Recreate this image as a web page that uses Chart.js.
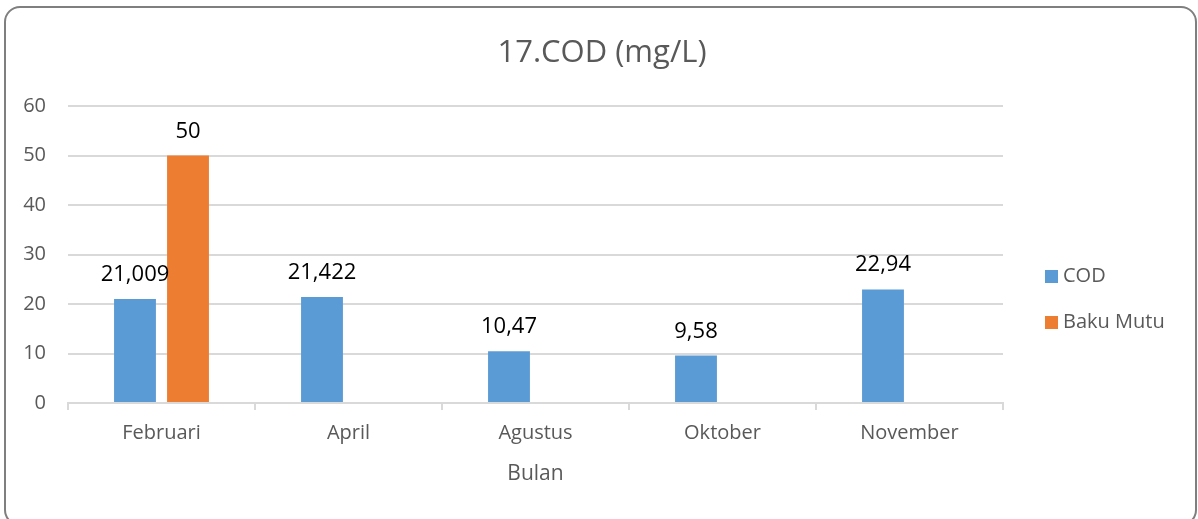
<!DOCTYPE html>
<html>
<head>
<meta charset="utf-8">
<script src="https://cdn.jsdelivr.net/npm/chart.js@4.4.1/dist/chart.umd.min.js"></script>
<style>
  html, body { margin: 0; padding: 0; background: #ffffff; overflow: hidden; }
  #wrap { position: relative; width: 1198px; height: 519px; }
  #frame { position: absolute; left: 4px; top: 6px; width: 1193px; height: 520px;
           border: 2px solid #7f7f7f; border-radius: 16px; box-sizing: border-box; pointer-events: none; }
  canvas { position: absolute; left: 0; top: 0; }
</style>
</head>
<body>
<div id="wrap">
  <canvas id="c" width="1198" height="519"></canvas>
  <div id="frame"></div>
</div>
<script>
const categories = ["Februari", "April", "Agustus", "Oktober", "November"];
const codValues = [21.009, 21.422, 10.47, 9.58, 22.94];
const bakuMutuValues = [50, null, null, null, null];
const seriesNames = ["COD", "Baku Mutu"];
const yTicks = [0, 10, 20, 30, 40, 50, 60];
const chartTitle = "17.COD (mg/L)";
const xAxisTitle = "Bulan";

const FONT = "'Open Sans', 'DejaVu Sans', sans-serif";
const GRAY = "#595959";
const GRID = "#d9d9d9";

const titlePlugin = {
  id: 'titlePlugin',
  afterDraw(chart) {
    const ctx = chart.ctx;
    ctx.save();
    ctx.font = "31px " + FONT;
    ctx.fillStyle = GRAY;
    ctx.textAlign = "center";
    ctx.textBaseline = "middle";
    ctx.fillText(chartTitle, chart.width / 2 + 3, 53);
    ctx.restore();
  }
};

const dataLabels = {
  id: 'dataLabels',
  afterDatasetsDraw(chart) {
    const ctx = chart.ctx;
    ctx.save();
    ctx.font = "22px " + FONT;
    ctx.fillStyle = "#000000";
    ctx.textAlign = "center";
    ctx.textBaseline = "alphabetic";
    chart.data.datasets.forEach((ds, i) => {
      const meta = chart.getDatasetMeta(i);
      meta.data.forEach((bar, j) => {
        const v = ds.data[j];
        if (v === null || v === undefined) return;
        const txt = String(v).replace('.', ',');
        ctx.fillText(txt, bar.x, bar.y - 18);
      });
    });
    ctx.restore();
  }
};

const sideLegend = {
  id: 'sideLegend',
  afterDraw(chart) {
    const ctx = chart.ctx;
    ctx.save();
    ctx.font = "20px " + FONT;
    ctx.textBaseline = "middle";
    ctx.textAlign = "left";
    const x0 = chart.chartArea.right + 42;
    const y1 = 276.5;
    const gap = 46;
    chart.data.datasets.forEach((ds, i) => {
      const y = y1 + i * gap;
      ctx.fillStyle = ds.backgroundColor;
      ctx.fillRect(x0, y - 6.5, 13, 13);
      ctx.fillStyle = GRAY;
      ctx.fillText(ds.label, x0 + 18, y);
    });
    ctx.restore();
  }
};

new Chart(document.getElementById('c'), {
  type: 'bar',
  data: {
    labels: categories,
    datasets: [
      { label: seriesNames[0], data: codValues, backgroundColor: "#5B9BD5",
        barPercentage: 0.79, categoryPercentage: 0.567 },
      { label: seriesNames[1], data: bakuMutuValues, backgroundColor: "#ED7D31",
        barPercentage: 0.79, categoryPercentage: 0.567 }
    ]
  },
  options: {
    responsive: false,
    animation: false,
    layout: { padding: { left: 0, right: 195, top: 106, bottom: 32 } },
    plugins: {
      legend: { display: false },
      tooltip: { enabled: false },
      title: { display: false }
    },
    scales: {
      x: {
        grid: { display: true, drawOnChartArea: false, drawTicks: true, tickLength: 7,
                color: GRID, lineWidth: 2, offset: true },
        border: { display: true, color: GRID, width: 2 },
        ticks: { color: GRAY, font: { family: FONT, size: 20 }, padding: 11 },
        title: { display: true, text: xAxisTitle, color: GRAY,
                 font: { family: FONT, size: 21 }, padding: { top: 6, bottom: 0 } },
        afterFit(scale) { scale.height = 519 - 403 - 32; }
      },
      y: {
        min: 0, max: 60,
        afterBuildTicks(scale) { scale.ticks = yTicks.map(v => ({ value: v })); },
        grid: { color: GRID, lineWidth: 2, drawTicks: false },
        border: { display: false },
        ticks: { color: GRAY, font: { family: FONT, size: 20 }, padding: 22 },
        afterFit(scale) { scale.width = 68; }
      }
    }
  },
  plugins: [dataLabels, sideLegend, titlePlugin]
});
</script>
</body>
</html>
